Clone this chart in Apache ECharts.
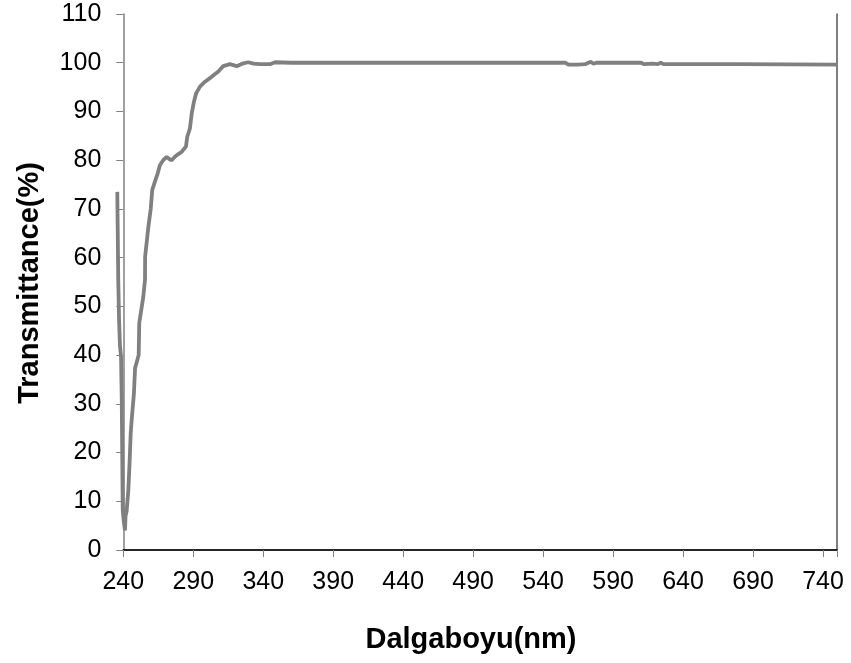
<!DOCTYPE html>
<html><head><meta charset="utf-8">
<script src="https://cdn.jsdelivr.net/npm/echarts@6/dist/echarts.min.js"></script>
<style>html,body{margin:0;padding:0;background:#fff}#c{width:851px;height:663px}</style>
</head><body><div id="c"></div>
<script>
const wavelength = [235.7,236.0,236.4,237.0,237.6,238.4,238.9,239.6,240.3,241.2,241.6,242.4,243.6,244.5,245.3,246.0,247.6,248.4,251.0,251.4,254.3,255.5,255.6,257.9,259.6,260.7,262.6,264.6,266.2,268.5,271.0,272.5,274.6,276.5,278.0,281.7,284.8,285.7,287.6,288.9,290.5,292.0,294.8,298.4,303.1,307.9,311.4,316.2,321.0,325.0,329.3,333.0,337.6,344.8,348.4,360,400,440,470,471,472,500,540,556,558,565,570,574,576,578,600,610,612,618,622,624,626,680,750];
const transmittance = [73.5,66,55.4,47,42,39.6,30.8,8.2,6,4,7,8,12.3,18,24,26.7,32.2,37.3,40,46.6,52,55.4,60.2,66.3,70,73.9,75.6,77.3,79,80,80.7,80.3,80,80.6,81,81.7,82.8,84.8,86.5,89.6,92,93.7,95.1,96.1,97.1,98.2,99.3,99.7,99.3,99.8,100.1,99.8,99.7,99.7,100.1,100,100,100,100,99.6,100,100,100,100,99.6,99.6,99.7,100.2,99.8,100,100,100,99.7,99.8,99.7,100,99.7,99.7,99.6];
const xTicks = [240,290,340,390,440,490,540,590,640,690,740];
const yTicks = [0,10,20,30,40,50,60,70,80,90,100,110];

const pts = wavelength.map((w,i)=>[w, transmittance[i]]);
const chart = echarts.init(document.getElementById('c'), null, {renderer:'canvas'});
const font = '"Liberation Sans", Arial, sans-serif';
const pxPerNm = 1.4;
chart.setOption({
  animation:false,
  grid:[
    {left:123.3, right:14, top:14, bottom:113},
    {left:123.3 - 5*pxPerNm, right:14, top:14, bottom:113}
  ],
  xAxis:[{
    gridIndex:0, type:'value', min:240, max:750, interval:50,
    axisLine:{lineStyle:{color:'#808080', width:1.5}},
    axisTick:{length:7, lineStyle:{color:'#808080'}},
    splitLine:{show:false},
    axisLabel:{margin:20, color:'#000', fontSize:25, fontFamily:font,
      formatter:v=> xTicks.indexOf(v)>=0 ? String(v) : ''}
  },{
    gridIndex:0, type:'value', position:'top', min:240, max:750,
    axisLine:{show:true, lineStyle:{color:'#000', width:1.5}},
    axisTick:{show:false}, axisLabel:{show:false}, splitLine:{show:false}
  },{
    gridIndex:1, type:'value', min:235, max:750, show:false
  }],
  yAxis:[{
    gridIndex:0, type:'value', min:0, max:110, interval:10,
    axisLine:{lineStyle:{color:'#808080', width:1.5}},
    axisTick:{length:7, lineStyle:{color:'#808080'}},
    splitLine:{show:false},
    axisLabel:{margin:22, color:'#000', fontSize:25, fontFamily:font,
      formatter:v=> yTicks.indexOf(v)>=0 ? String(v) : ''}
  },{
    gridIndex:0, type:'value', position:'right', min:0, max:110,
    axisLine:{show:true, lineStyle:{color:'#555', width:1.5}},
    axisTick:{show:false}, axisLabel:{show:false}, splitLine:{show:false}
  },{
    gridIndex:1, type:'value', min:0, max:110, show:false
  }],
  graphic:[
    {type:'text', x:471, y:640, style:{text:'Dalgaboyu(nm)', font:'bold 29px '+font, fill:'#000', align:'center', verticalAlign:'middle'}},
    {type:'text', x:30, y:283, rotation:Math.PI/2, style:{text:'Transmittance(%)', font:'bold 29px '+font, fill:'#000', align:'center', verticalAlign:'middle'}}
  ],
  series:[{
    type:'line', xAxisIndex:2, yAxisIndex:2, data:pts, showSymbol:false, clip:false, z:5,
    lineStyle:{color:'#808080', width:3.8}
  }]
});
</script></body></html>
